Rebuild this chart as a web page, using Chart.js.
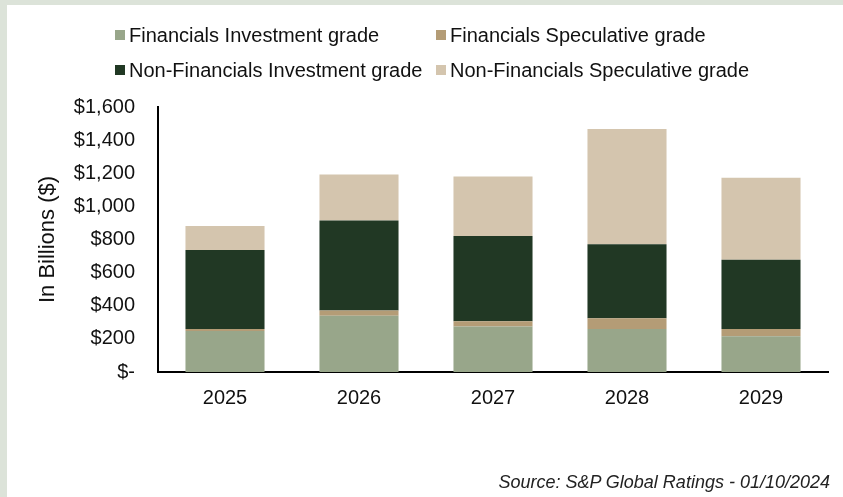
<!DOCTYPE html>
<html>
<head>
<meta charset="utf-8">
<script src="https://cdn.jsdelivr.net/npm/chart.js@4.4.1/dist/chart.umd.min.js"></script>
<style>
  html, body { margin: 0; padding: 0; background: #fff; }
  #wrap {
    position: relative;
    width: 843px;
    height: 497px;
    overflow: hidden;
    font-family: "Liberation Sans", Arial, sans-serif;
  }
  #frameTop { position: absolute; left: 0; top: 0; width: 843px; height: 5px; background: #dce3d9; }
  #frameLeft { position: absolute; left: 0; top: 0; width: 7px; height: 497px; background: #dce3d9; }
  #chart { position: absolute; left: 0; top: 0; }
  .leg-item {
    position: absolute;
    font-size: 20px;
    color: #111;
    white-space: nowrap;
    line-height: 20px;
  }
  .leg-box {
    position: absolute;
    width: 10px;
    height: 10px;
  }
  #source {
    position: absolute;
    right: 13px;
    top: 472px;
    font-size: 18px;
    font-style: italic;
    color: #222;
    white-space: nowrap;
  }
</style>
</head>
<body>
<div id="wrap">
  <div id="frameTop"></div>
  <div id="frameLeft"></div>
  <canvas id="chart" width="843" height="497"></canvas>
  <div id="legend"></div>
  <div id="source">Source: S&amp;P Global Ratings - 01/10/2024</div>
</div>
<script>
const years = ['2025', '2026', '2027', '2028', '2029'];

const seriesNames = [
    'Financials Investment grade',
    'Financials Speculative grade',
    'Non-Financials Investment grade',
    'Non-Financials Speculative grade',
];

// In billions of dollars
const finInvestment = [248, 340, 274, 260, 216];
const finSpeculative = [12, 32, 32, 64, 44];
const nonFinInvestment = [477, 542, 515, 447, 418];
const nonFinSpeculative = [144, 279, 359, 696, 495];

const yTicks = [0, 200, 400, 600, 800, 1000, 1200, 1400, 1600];

const colors = ['#98a68a', '#b49c76', '#213824', '#d4c5ae'];
const seriesData = [finInvestment, finSpeculative, nonFinInvestment, nonFinSpeculative];

function formatDollar(v) {
    if (v === 0) return '$-';
    return '$' + v.toLocaleString('en-US');
}

const canvas = document.getElementById('chart');
const ctx = canvas.getContext('2d');
const font = { family: '"Liberation Sans", Arial, sans-serif', size: 20 };

new Chart(ctx, {
    type: 'bar',
    data: {
        labels: years,
        datasets: seriesNames.map((name, i) => ({
            label: name,
            data: seriesData[i],
            backgroundColor: colors[i],
            borderWidth: 0,
            barPercentage: 0.59,
            categoryPercentage: 1,
        })),
    },
    options: {
        responsive: false,
        animation: false,
        layout: {
            padding: { left: 35, right: 15, top: 107, bottom: 70 },
        },
        plugins: {
            legend: { display: false },
            tooltip: { enabled: false },
        },
        scales: {
            x: {
                stacked: true,
                grid: { display: false, drawTicks: false },
                border: { display: true, color: '#000', width: 2 },
                ticks: { color: '#111', font: font, padding: 14 },
                afterFit: (scale) => { scale.height = 55; },
            },
            y: {
                stacked: true,
                min: 0,
                max: 1600,
                afterBuildTicks: (scale) => {
                    scale.ticks = yTicks.map((v) => ({ value: v }));
                },
                grid: { display: false, drawTicks: false },
                border: { display: true, color: '#000', width: 2 },
                ticks: {
                    color: '#111',
                    font: font,
                    padding: 23,
                    callback: (v) => formatDollar(v),
                },
                title: {
                    display: true,
                    text: 'In Billions ($)',
                    color: '#111',
                    font: { family: font.family, size: 22 },
                    padding: { top: 0, bottom: 16 },
                },
                afterFit: (scale) => { scale.width = 123; },
            },
        },
    },
});

// Two-column legend above the plot, built from the same series names and colours
const legend = document.getElementById('legend');
const legendCols = [115, 436];
const legendRows = [25, 60];
seriesNames.forEach((name, i) => {
    const col = i % 2;
    const row = Math.floor(i / 2);
    const box = document.createElement('div');
    box.className = 'leg-box';
    box.style.background = colors[i];
    box.style.left = legendCols[col] + 'px';
    box.style.top = (legendRows[row] + 5) + 'px';
    legend.appendChild(box);

    const item = document.createElement('div');
    item.className = 'leg-item';
    item.textContent = name;
    item.style.left = (legendCols[col] + 14) + 'px';
    item.style.top = legendRows[row] + 'px';
    legend.appendChild(item);
});
</script>
</body>
</html>
